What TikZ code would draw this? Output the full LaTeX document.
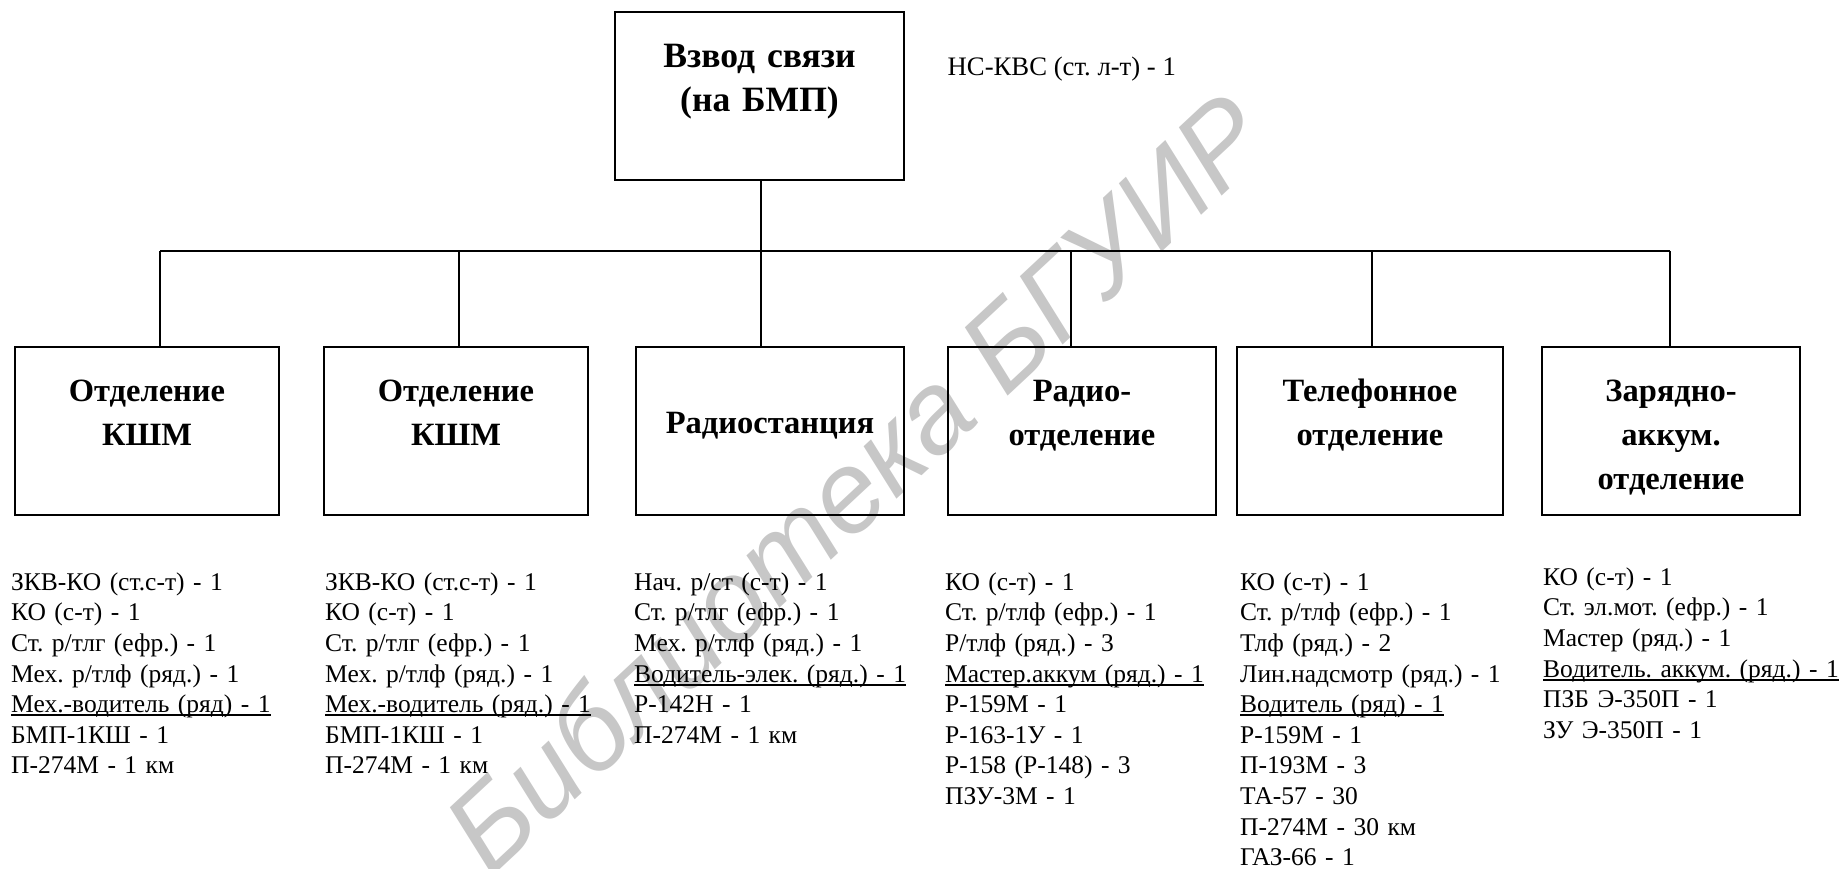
\documentclass[tikz,border=0pt]{standalone}
\usepackage{fontspec}
\setmainfont{Liberation Serif}
\newfontfamily\wmfont{Liberation Sans}
\usetikzlibrary{calc}
\setlength{\parindent}{0pt}
\newcommand\ulin[1]{\leavevmode\setbox0\hbox{#1}\rlap{\rule[-3.6pt]{\wd0}{1.8pt}}\box0}
\begin{document}
\frenchspacing
\begin{tikzpicture}[x=1pt,y=-1pt,
  unit/.style={draw, line width=2.2pt, inner sep=0pt, minimum height=168pt},
  topunit/.style={draw, line width=2.2pt, inner sep=0pt, minimum width=289pt, minimum height=168pt},
  wire/.style={line width=1.7pt},
  toplabel/.style={anchor=north, inner sep=0pt, text width=285pt, align=center,
    font=\bfseries\fontsize{35.6}{43.5}\selectfont},
  unitlabel/.style={anchor=north, inner sep=0pt, text width=255pt, align=center,
    font=\bfseries\fontsize{32.5}{44}\selectfont},
  plain/.style={inner sep=0pt, font=\fontsize{26.7}{30.6}\selectfont},
  roster/.style={anchor=north west, inner sep=0pt, text width=292pt, align=left,
    font=\fontsize{25.5}{30.6}\selectfont},
  wm/.style={inner sep=0pt, text=black!22, rotate=43,
    font=\wmfont\itshape\fontsize{115}{115}\selectfont}
]
\useasboundingbox (0,0) rectangle (1845,869);

% watermark
\node[wm] (wmark) at (855,482) {Библиотека БГУИР};

% boxes
\node[topunit] (top) at (759.5,96) {};
\node[unit, minimum width=264pt] (b1) at (147,431) {};
\node[unit, minimum width=264pt] (b2) at (456,431) {};
\node[unit, minimum width=268pt] (b3) at (770,431) {};
\node[unit, minimum width=268pt] (b4) at (1082,431) {};
\node[unit, minimum width=266pt] (b5) at (1370,431) {};
\node[unit, minimum width=258pt] (b6) at (1671,431) {};

% box texts
\node[toplabel] (toptext) at ($(top.north)+(0,26)$) {\strut Взвод связи\\(на БМП)};
\node[unitlabel] (t1) at ($(b1.north)+(0,24.5)$) {\strut Отделение\\КШМ};
\node[unitlabel] (t2) at ($(b2.north)+(0,24.5)$) {\strut Отделение\\КШМ};
\node[unitlabel] (t3) at ($(b3.north)+(0,56.5)$) {\strut Радиостанция};
\node[unitlabel] (t4) at ($(b4.north)+(0,24.5)$) {\strut Радио-\\отделение};
\node[unitlabel] (t5) at ($(b5.north)+(0,24.5)$) {\strut Телефонное\\отделение};
\node[unitlabel] (t6) at ($(b6.north)+(0,24.5)$) {\strut Зарядно-\\аккум.\\отделение};

\node[plain, anchor=base west] (nskvs) at (947.5,75.5) {НС-КВС (ст. л-т) - 1};

% connectors
\coordinate (j1) at (160,251);
\coordinate (j2) at (459,251);
\coordinate (j3) at (761,251);
\coordinate (j4) at (1071,251);
\coordinate (j5) at (1372,251);
\coordinate (j6) at (1670,251);
\draw[wire] (j3 |- top.south) -- (j3);
\draw[wire] (j1) -- (j6);
\foreach \i in {1,...,6} {\draw[wire] (j\i) -- (j\i |- b\i.north);}

% rosters (first baseline 590, 30.6 apart)
\node[roster] (r1) at (11,568.6) {\strut ЗКВ-КО (ст.с-т) - 1\\КО (с-т) - 1\\Ст. р/тлг (ефр.) - 1\\Мех. р/тлф (ряд.) - 1\\\ulin{Мех.-водитель (ряд) - 1}\\БМП-1КШ - 1\\П-274М - 1 км};
\node[roster] (r2) at (325,568.6) {\strut ЗКВ-КО (ст.с-т) - 1\\КО (с-т) - 1\\Ст. р/тлг (ефр.) - 1\\Мех. р/тлф (ряд.) - 1\\\ulin{Мех.-водитель (ряд.) - 1}\\БМП-1КШ - 1\\П-274М - 1 км};
\node[roster] (r3) at (634,568.6) {\strut Нач. р/ст (с-т) - 1\\Ст. р/тлг (ефр.) - 1\\Мех. р/тлф (ряд.) - 1\\\ulin{Водитель-элек. (ряд.) - 1}\\Р-142Н - 1\\П-274М - 1 км};
\node[roster] (r4) at (945,568.6) {\strut КО (с-т) - 1\\Ст. р/тлф (ефр.) - 1\\Р/тлф (ряд.) - 3\\\ulin{Мастер.аккум (ряд.) - 1}\\Р-159М - 1\\Р-163-1У - 1\\Р-158 (Р-148) - 3\\ПЗУ-3М - 1};
\node[roster] (r5) at (1240,568.6) {\strut КО (с-т) - 1\\Ст. р/тлф (ефр.) - 1\\Тлф (ряд.) - 2\\Лин.надсмотр (ряд.) - 1\\\ulin{Водитель (ряд) - 1}\\Р-159М - 1\\П-193М - 3\\ТА-57 - 30\\П-274М - 30 км\\ГАЗ-66 - 1};
\node[roster] (r6) at (1543,563.6) {\strut КО (с-т) - 1\\Ст. эл.мот. (ефр.) - 1\\Мастер (ряд.) - 1\\\ulin{Водитель. аккум. (ряд.) - 1}\\ПЗБ Э-350П - 1\\ЗУ Э-350П - 1};
\end{tikzpicture}
\end{document}
